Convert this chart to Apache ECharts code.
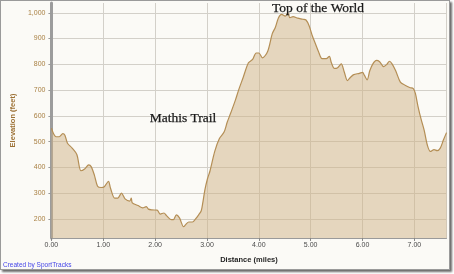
<!DOCTYPE html>
<html>
<head>
<meta charset="utf-8">
<script src="https://cdn.jsdelivr.net/npm/echarts@6/dist/echarts.min.js"></script>
<style>
html,body{margin:0;padding:0;background:#ffffff;width:454px;height:274px;overflow:hidden;}
#frame{position:absolute;left:0;top:0;width:450px;height:270px;box-sizing:border-box;border:1px solid #9a9a9a;box-shadow:2px 2px 2px #6a6a6a;background:#fbfaf6;}
#chart{position:absolute;left:0;top:0;width:448px;height:268px;}
</style>
</head>
<body>
<div id="frame"><div id="chart"></div></div>
<script>
// Distance (miles)
const dist = [0.00,0.09,0.15,0.22,0.26,0.31,0.40,0.49,0.57,0.64,0.72,0.77,0.83,0.89,0.96,1.02,1.10,1.14,1.22,1.28,1.35,1.42,1.51,1.54,1.56,1.67,1.76,1.83,1.87,1.94,2.04,2.10,2.17,2.22,2.30,2.35,2.41,2.47,2.55,2.59,2.65,2.72,2.78,2.84,2.89,2.92,2.96,3.01,3.06,3.15,3.24,3.33,3.39,3.46,3.55,3.61,3.70,3.80,3.88,3.95,4.00,4.07,4.17,4.26,4.32,4.38,4.44,4.51,4.56,4.60,4.66,4.75,4.85,4.91,4.97,5.03,5.09,5.15,5.22,5.30,5.36,5.40,5.46,5.52,5.59,5.65,5.71,5.77,5.83,5.94,6.00,6.04,6.09,6.14,6.20,6.27,6.33,6.41,6.47,6.52,6.57,6.64,6.73,6.82,6.91,6.98,7.02,7.07,7.13,7.19,7.25,7.31,7.38,7.44,7.50,7.56,7.62];
// Elevation (feet)
const elev = [552,519,519,531,525,494,475,450,387,394,410,402,369,327,322,325,346,319,281,281,300,278,269,281,262,252,243,248,238,235,234,219,223,213,198,197,216,204,170,178,188,188,200,216,232,263,313,356,387,462,512,537,575,612,662,700,750,806,819,844,844,825,850,919,944,981,994,987,1000,981,985,979,975,972,950,912,881,850,822,822,831,806,784,787,802,769,737,750,760,765,769,756,740,775,802,815,810,791,800,812,802,775,731,719,710,706,687,637,587,544,487,462,469,465,475,506,535];
const yTicks = [200,300,400,500,600,700,800,900,1000];
const xTickStep = 1;
const annotations = [
  {text:'Top of the World', x:317, y:7},
  {text:'Mathis Trail', x:182, y:117}
];

const chart = echarts.init(document.getElementById('chart'), null, {renderer:'canvas'});
const data = dist.map((d,i)=>[d, elev[i]]);
chart.setOption({
  animation:false,
  backgroundColor:'#fbfaf6',
  grid:{left:34, right:2.5, top:2, bottom:22.5, containLabel:false},
  xAxis:{
    type:'value', min:0, max:7.62, interval:xTickStep,
    name:'Distance (miles)', nameLocation:'middle', nameGap:18,
    nameTextStyle:{fontFamily:'Liberation Sans', fontSize:7.5, fontWeight:'bold', color:'#1e1e1e'},
    axisLine:{show:true, lineStyle:{color:'#9a9a9a', width:1}},
    axisTick:{show:true, length:3, lineStyle:{color:'#888'}},
    axisLabel:{showMaxLabel:false, margin:4, fontFamily:'Liberation Sans', fontSize:7, color:'#4a4a4a', formatter:v=>v.toFixed(2)},
    splitLine:{show:true, lineStyle:{color:'#d3d0c9', width:1}}
  },
  yAxis:{
    type:'value', min:126, max:1038,
    name:'Elevation (feet)', nameLocation:'middle', nameGap:31,
    nameTextStyle:{fontFamily:'Liberation Sans', fontSize:7.5, fontWeight:'bold', color:'#9c7034'},
    axisLine:{show:true, lineStyle:{color:'#9c9c9c', width:3}},
    axisTick:{show:true, length:3, customValues:yTicks, lineStyle:{color:'#999'}},
    axisLabel:{customValues:yTicks, margin:6, fontFamily:'Liberation Sans', fontSize:7, color:'#a98043', formatter:v=>v.toLocaleString('en-US')},
    splitLine:{show:true, lineStyle:{color:'#d3d0c9', width:1}}
  },
  graphic:[
    {type:'text', left:2, top:261, style:{text:'Created by SportTracks', fontFamily:'Liberation Sans', fontSize:6.5, fill:'#4545e8'}},
  ].concat(annotations.map(a=>({type:'text', z:100, x:a.x, y:a.y, style:{text:a.text, fontFamily:'Liberation Serif', fontSize:13.5, fill:'#1a1a1a', stroke:'#1a1a1a', lineWidth:0.25, align:'center', verticalAlign:'middle'}}))),
  series:[{
    type:'line', data:data, showSymbol:false, smooth:0.3,
    lineStyle:{color:'#b48e55', width:1.2},
    areaStyle:{color:'rgba(207,178,133,0.5)', opacity:1, origin:'start'},
    z:1
  }]
});
</script>
</body>
</html>
